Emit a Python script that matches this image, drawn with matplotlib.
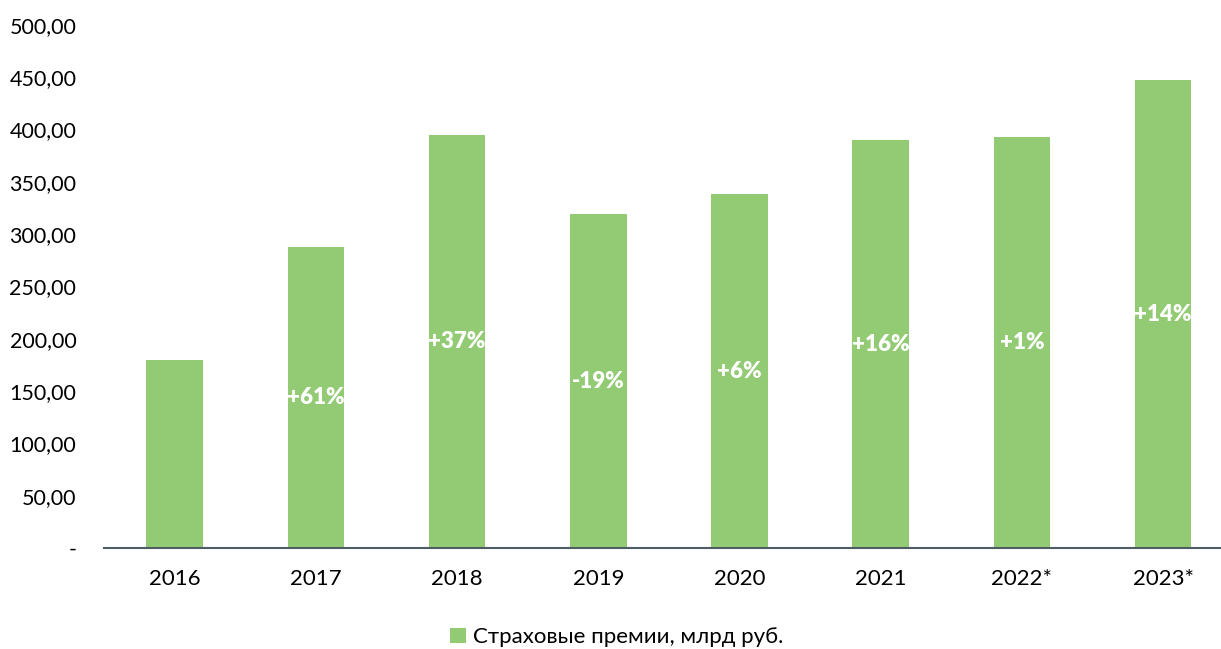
import matplotlib
matplotlib.use("Agg")
import matplotlib.pyplot as plt
from matplotlib.ticker import FuncFormatter

plt.rcParams['font.family'] = ['Lato', 'DejaVu Sans']

# данные
years = ['2016', '2017', '2018', '2019', '2020', '2021', '2022*', '2023*']
premiums = [180, 288, 395, 319, 338, 390, 393, 447]
growth = ['', '+61%', '+37%', '-19%', '+6%', '+16%', '+1%', '+14%']

bar_color = '#93cb75'

fig = plt.figure(figsize=(12.21, 6.49), dpi=100)
ax = fig.add_axes([0.0852, 0.1556, 0.9148, 0.806])

x = range(len(years))
bars = ax.bar(x, premiums, width=0.4, color=bar_color, label='Страховые премии, млрд руб.')

for rect, lbl in zip(bars, growth):
    if lbl:
        ax.text(rect.get_x() + rect.get_width() / 2, rect.get_height() / 2, lbl,
                ha='center', va='center', color='white', fontsize=16, fontweight='heavy')

ax.set_xlim(-0.5, 7.41)
ax.set_ylim(0, 500)
ax.set_yticks(range(0, 501, 50))
ax.yaxis.set_major_formatter(FuncFormatter(
    lambda v, p: '-' if v == 0 else f'{v:.2f}'.replace('.', ',')))
ax.set_xticks(list(x))
ax.set_xticklabels(years)
ax.tick_params(axis='y', length=0, pad=20, labelsize=15.5)
ax.tick_params(axis='x', length=0, pad=15, labelsize=16)

for s in ['top', 'right', 'left']:
    ax.spines[s].set_visible(False)
ax.spines['bottom'].set_color('#4e5c64')
ax.spines['bottom'].set_linewidth(1.5)

fig.legend(loc='center', bbox_to_anchor=(0.505, 0.018), frameon=False,
           fontsize=16, handlelength=0.7, handleheight=0.7, handletextpad=0.3)

fig.savefig('out.png', dpi=100)
